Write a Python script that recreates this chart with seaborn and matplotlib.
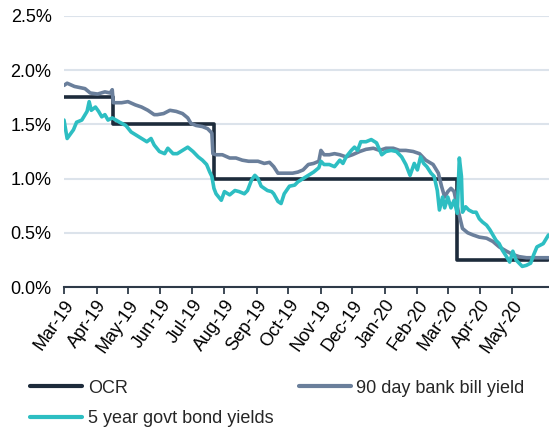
import pandas as pd
import matplotlib
matplotlib.use("Agg")
import matplotlib.pyplot as plt
import matplotlib.dates as mdates
from matplotlib.ticker import FuncFormatter
import seaborn as sns

# OCR step dates (value holds until the next date)
ocr_dates = ["2019-03-01", "2019-04-17", "2019-07-22", "2020-03-10", "2020-06-05"]
ocr_values = [1.75, 1.50, 1.00, 0.25, 0.25]

bill_dates = [
    "2019-03-01", "2019-03-04", "2019-03-11", "2019-03-21", "2019-03-26", "2019-04-02",
    "2019-04-09", "2019-04-14", "2019-04-16", "2019-04-17", "2019-04-25", "2019-05-01",
    "2019-05-08", "2019-05-14", "2019-05-20", "2019-05-26", "2019-05-29", "2019-06-04",
    "2019-06-10", "2019-06-16", "2019-06-22", "2019-06-27", "2019-06-30", "2019-07-05",
    "2019-07-11", "2019-07-16", "2019-07-20", "2019-07-21", "2019-07-24", "2019-07-30",
    "2019-08-06", "2019-08-12", "2019-08-18", "2019-08-24", "2019-09-02", "2019-09-08",
    "2019-09-13", "2019-09-17", "2019-09-21", "2019-09-26", "2019-09-30", "2019-10-05",
    "2019-10-10", "2019-10-15", "2019-10-20", "2019-10-25", "2019-10-30", "2019-11-01",
    "2019-11-04", "2019-11-09", "2019-11-14", "2019-11-19", "2019-11-25", "2019-12-01",
    "2019-12-08", "2019-12-14", "2019-12-21", "2019-12-27", "2020-01-02", "2020-01-09",
    "2020-01-15", "2020-01-21", "2020-01-28", "2020-02-03", "2020-02-09", "2020-02-16",
    "2020-02-21", "2020-02-24", "2020-02-27", "2020-03-01", "2020-03-04", "2020-03-07",
    "2020-03-10", "2020-03-12", "2020-03-15", "2020-03-20", "2020-03-25", "2020-03-31",
    "2020-04-07", "2020-04-13", "2020-04-19", "2020-04-26", "2020-05-02", "2020-05-08",
    "2020-05-15", "2020-05-21", "2020-06-05",
]
bill_values = [
    1.86, 1.88, 1.85, 1.83, 1.79, 1.78,
    1.80, 1.79, 1.82, 1.70, 1.70, 1.71,
    1.68, 1.66, 1.63, 1.59, 1.59, 1.60,
    1.63, 1.62, 1.60, 1.56, 1.51, 1.49,
    1.48, 1.46, 1.42, 1.23, 1.22, 1.22,
    1.19, 1.19, 1.17, 1.16, 1.16, 1.14,
    1.15, 1.11, 1.05, 1.05, 1.05, 1.05,
    1.06, 1.08, 1.13, 1.14, 1.16, 1.26,
    1.22, 1.22, 1.23, 1.22, 1.20, 1.22,
    1.25, 1.27, 1.28, 1.26, 1.28, 1.28,
    1.26, 1.26, 1.25, 1.23, 1.17, 1.13,
    1.05, 0.93, 0.83, 0.88, 0.91, 0.88,
    0.74, 0.66, 0.54, 0.50, 0.48, 0.46,
    0.45, 0.42, 0.37, 0.33, 0.30, 0.28,
    0.27, 0.27, 0.27,
]

bond_dates = [
    "2019-03-01", "2019-03-04", "2019-03-10", "2019-03-13", "2019-03-18", "2019-03-23",
    "2019-03-25", "2019-03-27", "2019-03-31", "2019-04-03", "2019-04-06", "2019-04-09",
    "2019-04-12", "2019-04-16", "2019-04-23", "2019-04-29", "2019-05-04", "2019-05-09",
    "2019-05-14", "2019-05-19", "2019-05-23", "2019-05-26", "2019-05-31", "2019-06-05",
    "2019-06-08", "2019-06-13", "2019-06-17", "2019-06-22", "2019-06-27", "2019-07-02",
    "2019-07-07", "2019-07-11", "2019-07-15", "2019-07-18", "2019-07-20", "2019-07-22",
    "2019-07-24", "2019-07-29", "2019-08-01", "2019-08-06", "2019-08-11", "2019-08-15",
    "2019-08-20", "2019-08-23", "2019-08-27", "2019-08-30", "2019-09-02", "2019-09-05",
    "2019-09-08", "2019-09-11", "2019-09-15", "2019-09-17", "2019-09-21", "2019-09-24",
    "2019-09-27", "2019-10-02", "2019-10-07", "2019-10-10", "2019-10-15", "2019-10-20",
    "2019-10-25", "2019-10-30", "2019-11-01", "2019-11-04", "2019-11-09", "2019-11-14",
    "2019-11-19", "2019-11-22", "2019-11-25", "2019-11-30", "2019-12-03", "2019-12-06",
    "2019-12-09", "2019-12-14", "2019-12-19", "2019-12-24", "2019-12-29", "2020-01-02",
    "2020-01-07", "2020-01-12", "2020-01-17", "2020-01-21", "2020-01-25", "2020-01-29",
    "2020-02-01", "2020-02-04", "2020-02-07", "2020-02-10", "2020-02-14", "2020-02-17",
    "2020-02-20", "2020-02-22", "2020-02-25", "2020-02-27", "2020-03-01", "2020-03-04",
    "2020-03-07", "2020-03-10", "2020-03-12", "2020-03-14", "2020-03-15", "2020-03-18",
    "2020-03-21", "2020-03-25", "2020-03-28", "2020-03-31", "2020-04-03", "2020-04-07",
    "2020-04-10", "2020-04-13", "2020-04-16", "2020-04-19", "2020-04-22", "2020-04-26",
    "2020-04-29", "2020-05-02", "2020-05-05", "2020-05-08", "2020-05-11", "2020-05-15",
    "2020-05-19", "2020-05-22", "2020-05-25", "2020-05-31", "2020-06-05",
]
bond_values = [
    1.54, 1.37, 1.45, 1.52, 1.54, 1.62,
    1.71, 1.63, 1.66, 1.62, 1.57, 1.59,
    1.54, 1.56, 1.52, 1.49, 1.43, 1.40,
    1.37, 1.34, 1.37, 1.31, 1.25, 1.23,
    1.28, 1.23, 1.23, 1.26, 1.29, 1.25,
    1.20, 1.17, 1.13, 1.06, 1.02, 0.91,
    0.86, 0.80, 0.88, 0.85, 0.89, 0.88,
    0.86, 0.89, 0.99, 1.03, 1.00, 0.93,
    0.91, 0.89, 0.88, 0.86, 0.79, 0.77,
    0.86, 0.93, 0.94, 0.97, 1.00, 1.03,
    1.06, 1.10, 1.16, 1.13, 1.13, 1.11,
    1.17, 1.14, 1.20, 1.26, 1.29, 1.26,
    1.34, 1.34, 1.36, 1.33, 1.22, 1.25,
    1.26, 1.25, 1.20, 1.13, 1.03, 1.14,
    1.08, 1.20, 1.14, 1.11, 1.05, 1.02,
    0.89, 0.71, 0.83, 0.73, 0.83, 0.73,
    0.80, 0.68, 1.19, 1.02, 0.69, 0.74,
    0.71, 0.69, 0.69, 0.63, 0.60, 0.57,
    0.53, 0.48, 0.43, 0.40, 0.34, 0.28,
    0.23, 0.33, 0.25, 0.22, 0.19, 0.20,
    0.22, 0.30, 0.37, 0.40, 0.48,
]

month_ticks = pd.date_range("2019-03-01", "2020-05-01", freq="MS")

ocr = pd.DataFrame({"date": pd.to_datetime(ocr_dates), "value": ocr_values})
bill = pd.DataFrame({"date": pd.to_datetime(bill_dates), "value": bill_values})
bond = pd.DataFrame({"date": pd.to_datetime(bond_dates), "value": bond_values})

sns.set_theme(style="white")
plt.rcParams["font.family"] = ["Liberation Sans", "DejaVu Sans"]

fig = plt.figure(figsize=(5.49, 4.28), dpi=100)
ax = fig.add_axes([64 / 549, 1 - 287 / 428, 1 - 64 / 549, (287 - 16) / 428])

lw = 2.6
sns.lineplot(data=ocr, x="date", y="value", ax=ax, color="#1d2b3b", linewidth=lw,
             drawstyle="steps-post", label="OCR", zorder=3)
sns.lineplot(data=bill, x="date", y="value", ax=ax, color="#6a7f9b", linewidth=lw,
             label="90 day bank bill yield", zorder=4)
sns.lineplot(data=bond, x="date", y="value", ax=ax, color="#2dbec2", linewidth=lw,
             label="5 year govt bond yields", zorder=5)

ax.set_ylim(0, 2.5)
ax.set_xlim(pd.Timestamp("2019-03-01"), pd.Timestamp("2020-06-05 12:00"))
ax.set_yticks([0, 0.5, 1.0, 1.5, 2.0, 2.5])
ax.yaxis.set_major_formatter(FuncFormatter(lambda v, p: f"{v:.1f}%"))
ax.set_xticks(month_ticks)
ax.xaxis.set_major_formatter(mdates.DateFormatter("%b-%y"))
ax.set_xlabel("")
ax.set_ylabel("")

ax.grid(axis="y", color="#dce3eb", linewidth=1.5)
ax.set_axisbelow(True)
for side in ["left", "right", "top"]:
    ax.spines[side].set_visible(False)
ax.spines["bottom"].set_color("#2e3a48")
ax.spines["bottom"].set_linewidth(1.5)
ax.spines["bottom"].set_zorder(6)

ax.tick_params(axis="y", length=0, pad=9, labelsize=13, labelcolor="black")
ax.tick_params(axis="x", bottom=True, direction="out", length=5, width=1.3,
               color="#2e3a48", pad=2, labelsize=13, labelcolor="black")
plt.setp(ax.get_xticklabels(), rotation=55, ha="right", rotation_mode="anchor")

handles, labels = ax.get_legend_handles_labels()
ax.get_legend().remove()
order = [0, 2, 1]
leg = fig.legend([handles[i] for i in order], [labels[i] for i in order],
                 loc="center left", bbox_to_anchor=(30 / 549, 1 - 403.5 / 428),
                 ncol=2, frameon=False, fontsize=13, handlelength=2.9,
                 handletextpad=0.3, columnspacing=1.4, labelspacing=0.75,
                 borderpad=0, borderaxespad=0)
for line in leg.get_lines():
    line.set_linewidth(3.0)

fig.savefig("out.png", dpi=100)
